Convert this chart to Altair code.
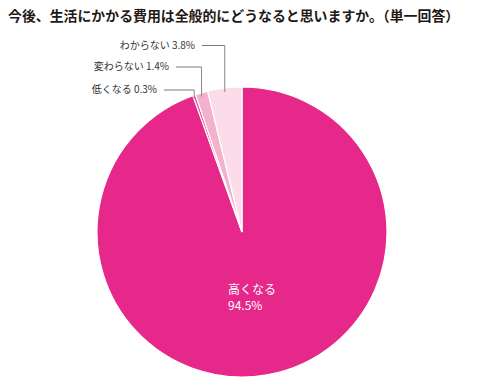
import altair as alt
import pandas as pd
import numpy as np

title_text = "今後、生活にかかる費用は全般的にどうなると思いますか。（単一回答）"
categories = ["高くなる", "低くなる", "変わらない", "わからない"]
values = [94.5, 0.3, 1.4, 3.8]
colors = ["#E5288A", "#E5409A", "#F2B2CD", "#FBDCE8"]

FONT = "Noto Sans CJK JP"
# plot-area pixel layout (plot origin sits at page (8, 16))
CX, CY, R = 234, 216, 145
# annotation layout for the small slices (label row y, label right edge x)
label_rows = {"低くなる": (74, 149), "変わらない": (51, 161), "わからない": (29.5, 187)}

df = pd.DataFrame({"category": categories, "value": values, "idx": range(len(values))})
df["cum"] = df["value"].cumsum()
df["mid"] = df["cum"] - df["value"] / 2
ang = df["mid"] / df["value"].sum() * 2 * np.pi
df["ax"] = CX + R * np.sin(ang)
df["ey"] = CY - (R - 4) * np.cos(ang)
df["label"] = df["category"] + " " + df["value"].map(lambda v: f"{v:.1f}%")
df["pct"] = df["value"].map(lambda v: f"{v:.1f}%")

lead = df[df["idx"] > 0].copy()
lead["ly"] = lead["category"].map(lambda c: label_rows[c][0])
lead["tx"] = lead["category"].map(lambda c: label_rows[c][1])
lead["lx"] = lead["tx"] + 7

main = df[df["idx"] == 0].copy()

pie = alt.Chart(df).mark_arc(radius=R, stroke="white", strokeWidth=1.2).encode(
    theta=alt.Theta("value:Q", stack=True),
    color=alt.Color("category:N", scale=alt.Scale(domain=categories, range=colors), legend=None),
    order=alt.Order("idx:Q"),
    x=alt.value(CX),
    y=alt.value(CY),
)

hline = alt.Chart(lead).mark_rule(color="#7a7a7a", strokeWidth=1).encode(
    x=alt.X("lx:Q", scale=None), x2="ax:Q", y=alt.Y("ly:Q", scale=None)
)
vline = alt.Chart(lead).mark_rule(color="#8a8a8a", strokeWidth=1).encode(
    x=alt.X("ax:Q", scale=None), y=alt.Y("ly:Q", scale=None), y2="ey:Q"
)
labels = alt.Chart(lead).mark_text(
    align="right", baseline="middle", fontSize=10, font=FONT, color="#333333"
).encode(x=alt.X("tx:Q", scale=None), y=alt.Y("ly:Q", scale=None), text="label:N")

main_cat = alt.Chart(main).mark_text(
    align="left", baseline="middle", fontSize=12, font=FONT, color="white"
).encode(x=alt.value(220), y=alt.value(273.5), text="category:N")
main_pct = alt.Chart(main).mark_text(
    align="left", baseline="middle", fontSize=12, font=FONT, color="white"
).encode(x=alt.value(220), y=alt.value(289.5), text="pct:N")

title = alt.Chart(pd.DataFrame({"t": [title_text]})).mark_text(
    align="left", baseline="middle", fontSize=13.9, fontWeight="bold", font=FONT, color="#231815"
).encode(x=alt.value(0), y=alt.value(0.5), text="t:N")

chart = alt.layer(pie, hline, vline, labels, main_cat, main_pct, title).properties(
    width=462, height=361, autosize=alt.AutoSizeParams(type="none"),
    padding={"left": 0, "top": 8, "right": 0, "bottom": 0},
).configure_view(stroke=None)

chart.save("out.html", embed_options={"renderer": "svg", "actions": False})
